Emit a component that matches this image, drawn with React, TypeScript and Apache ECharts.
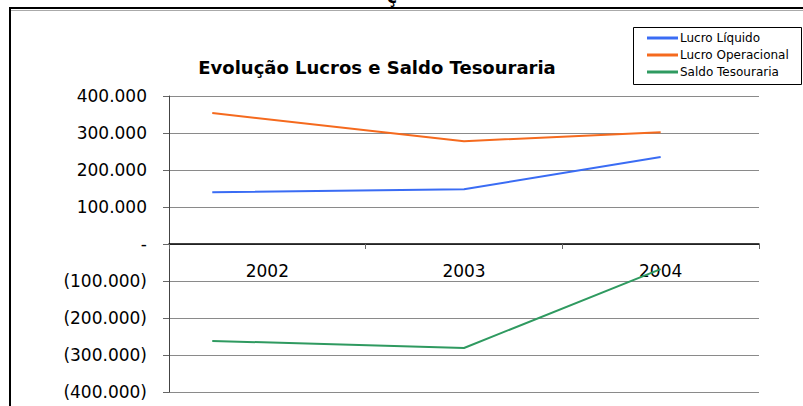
import React, { useEffect, useRef } from "react";
import * as echarts from "echarts";

const years = ["2002", "2003", "2004"];
const pointPositions = [0.22, 1.5, 2.5];
const lucroLiquido = [140000, 148000, 235000];
const lucroOperacional = [354000, 278000, 302000];
const saldoTesouraria = [-262000, -281000, -68000];
const seriesNames = ["Lucro Líquido", "Lucro Operacional", "Saldo Tesouraria"];
const colors = ["#3a6cf4", "#f56a1e", "#2f9a60"];

const FONT = "DejaVu Sans";

function fmt(v: number): string {
  if (v === 0) return "-";
  const s = Math.abs(v).toLocaleString("de-DE");
  return v < 0 ? "(" + s + ")" : s;
}

export default function App() {
  const ref = useRef<HTMLDivElement>(null);
  useEffect(() => {
    if (!ref.current) return;
    const chart = echarts.init(ref.current, null, { renderer: "svg" });
    const all = [lucroLiquido, lucroOperacional, saldoTesouraria];
    chart.setOption({
      animation: false,
      backgroundColor: "#fff",
      title: {
        text: "Evolução Lucros e Saldo Tesouraria",
        left: 372,
        textAlign: "center",
        top: 53,
        textStyle: { fontFamily: FONT, fontSize: 18, fontWeight: "bold", color: "#000" },
      },
      legend: {
        orient: "vertical",
        left: 642,
        top: 26,
        itemWidth: 31,
        itemHeight: 3,
        itemGap: 3,
        icon: "rect",
        data: seriesNames,
        textStyle: { fontFamily: FONT, fontSize: 12, color: "#000", padding: [0, 0, 0, -3], lineHeight: 14 },
      },
      grid: { left: 169, right: 44, top: 96, bottom: 14, outerBoundsMode: "none", containLabel: false },
      xAxis: [
        {
          type: "category",
          data: years,
          boundaryGap: true,
          position: "bottom",
          offset: -148,
          axisLine: { onZero: false, lineStyle: { color: "#000", width: 1.5 } },
          axisTick: { show: true, length: 5, lineStyle: { color: "#666" } },
          axisLabel: { margin: 18, fontFamily: FONT, fontSize: 17, color: "#000" },
          splitLine: { show: false },
        },
        { type: "value", min: 0, max: 3, show: false },
      ],
      yAxis: {
        type: "value",
        min: -400000,
        max: 400000,
        interval: 100000,
        axisLine: { show: true, lineStyle: { color: "#444" } },
        axisTick: { show: true, length: 6, lineStyle: { color: "#666" } },
        axisLabel: { margin: 22, fontFamily: FONT, fontSize: 17, color: "#000", formatter: fmt },
        splitLine: { show: true, lineStyle: { color: "#8a8a8a" } },
      },
      series: all.map((vals, i) => ({
        name: seriesNames[i],
        type: "line",
        xAxisIndex: 1,
        symbol: "none",
        lineStyle: { width: 2, color: colors[i] },
        itemStyle: { color: colors[i] },
        data: vals.map((v, j) => [pointPositions[j], v]),
        z: 3,
      })),
      graphic: [
        { type: "rect", shape: { x: 10, y: 8, width: 900, height: 500 }, style: { fill: "none", stroke: "#000", lineWidth: 2 }, silent: true },
        { type: "line", shape: { x1: 11, y1: 10.5, x2: 803, y2: 10.5 }, style: { stroke: "#aaa", lineWidth: 1 }, silent: true },
        { type: "rect", shape: { x: 633.5, y: 27.5, width: 168, height: 57 }, style: { fill: "none", stroke: "#000", lineWidth: 1 }, silent: true, z: 10 },
        { type: "text", x: 392, y: 5, style: { text: "ç", font: "bold 17px DejaVu Sans", fill: "#000", textAlign: "center", textVerticalAlign: "bottom" }, silent: true },
      ],
    });
    return () => chart.dispose();
  }, []);
  return <div ref={ref} style={{ position: "fixed", left: 0, top: 0, width: 803, height: 406 }} />;
}
